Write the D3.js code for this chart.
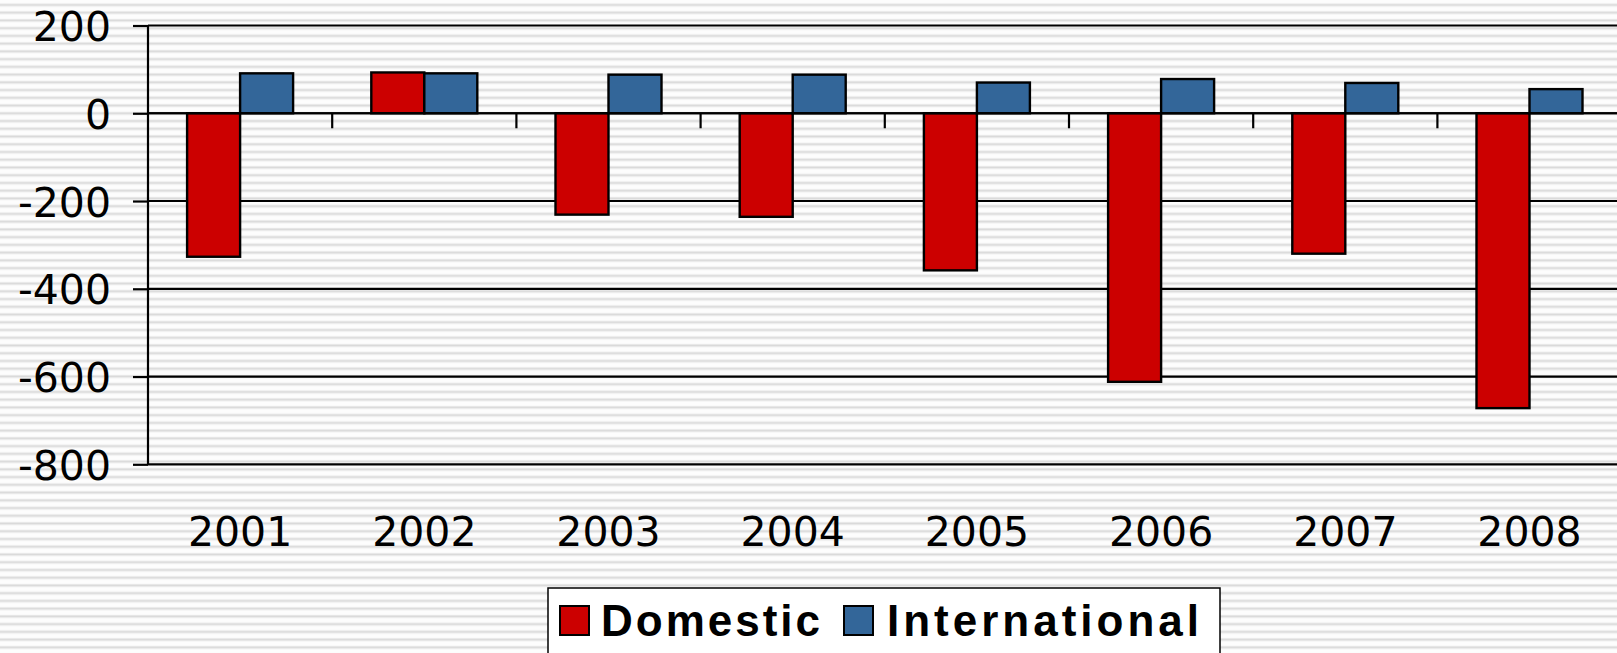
<!DOCTYPE html>
<html>
<head>
<meta charset="utf-8">
<script src="https://cdn.jsdelivr.net/npm/d3@7"></script>
<style>
html,body{margin:0;padding:0;background:#fff;overflow:hidden;}
svg{display:block;}
</style>
</head>
<body>
<svg id="chart" width="1617" height="653"></svg>
<script>
const categories = ["2001","2002","2003","2004","2005","2006","2007","2008"];
const seriesNames = ["Domestic","International"];
const domestic = [-327, 93, -231, -236, -358, -612, -320, -672];
const international = [91, 91, 88, 88, 70, 78, 69, 55];
const yTicks = [200, 0, -200, -400, -600, -800];
const yTickLabels = ["200", "0", "-200", "-400", "-600", "-800"];
const colors = ["#CC0000", "#336699"];

const svg = d3.select("#chart");
const W = 1617, H = 653;

// striped background
const defs = svg.append("defs");
const pat = defs.append("pattern").attr("id","stripes")
  .attr("patternUnits","userSpaceOnUse").attr("width",10).attr("height",7.74)
  .attr("y",0.6);
pat.append("rect").attr("width",10).attr("height",7.74).attr("fill","#fdfdfd");
pat.append("rect").attr("y",2.8).attr("width",10).attr("height",0.7).attr("fill","#e8e8e8");
pat.append("rect").attr("y",3.5).attr("width",10).attr("height",1.8).attr("fill","#dadada");
pat.append("rect").attr("y",5.3).attr("width",10).attr("height",0.7).attr("fill","#e8e8e8");
svg.append("rect").attr("width",W).attr("height",H).attr("fill","url(#stripes)");

const x0 = 148, bandW = 184.2;
const x = d3.scaleBand().domain(categories).range([x0, x0 + bandW*categories.length]).padding(0);
const x1 = d3.scaleBand().domain(seriesNames).range([0, x.bandwidth()]).paddingInner(0).paddingOuter(0.7377);
const y = d3.scaleLinear().domain([-800, 200]).range([464.3, 25.5]);

const plotRight = x.range()[1];

// y ticks (outward)
const yAxis = d3.axisLeft(y).tickValues(yTicks).tickSize(15).tickFormat((d,i) => yTickLabels[i]);
const gy = svg.append("g").attr("transform",`translate(${x0},0)`).call(yAxis);
gy.select(".domain").remove();
gy.selectAll(".tick line").attr("stroke","#000").attr("stroke-width",2.2);
gy.selectAll(".tick text").remove();

// gridlines
svg.append("g").selectAll("line").data(yTicks).join("line")
  .attr("x1", x0).attr("x2", plotRight)
  .attr("y1", d => y(d)).attr("y2", d => y(d))
  .attr("stroke","#000").attr("stroke-width",2.2);

// y labels
svg.append("g").selectAll("text").data(yTicks).join("text")
  .attr("x", 111).attr("y", d => y(d) + 15.5)
  .attr("text-anchor","end")
  .attr("font-family","DejaVu Sans, Verdana, sans-serif")
  .attr("font-size", 41).attr("fill","#000")
  .text((d,i) => yTickLabels[i]);

// vertical axis line
svg.append("line").attr("x1",x0).attr("x2",x0).attr("y1",y(200)).attr("y2",y(-800))
  .attr("stroke","#000").attr("stroke-width",2.2);

// bars
const data = categories.map((c,i) => ({cat:c, vals:[domestic[i], international[i]]}));
const groups = svg.append("g").selectAll("g").data(data).join("g")
  .attr("transform", d => `translate(${x(d.cat)},0)`);
groups.selectAll("rect").data(d => d.vals.map((v,j) => ({name:seriesNames[j], v, j})))
  .join("rect")
  .attr("x", d => x1(d.name))
  .attr("width", x1.bandwidth())
  .attr("y", d => y(Math.max(0, d.v)))
  .attr("height", d => Math.abs(y(d.v) - y(0)))
  .attr("fill", d => colors[d.j])
  .attr("stroke","#000").attr("stroke-width",2.4);

// category axis at zero
const gx = svg.append("g").attr("transform",`translate(0,${y(0)})`);
gx.append("line").attr("x1",x0).attr("x2",plotRight).attr("y1",0).attr("y2",0)
  .attr("stroke","#000").attr("stroke-width",2.2);
gx.selectAll("line.tk").data(categories.slice(1)).join("line").attr("class","tk")
  .attr("x1", d => x(d)).attr("x2", d => x(d)).attr("y1",0).attr("y2",15)
  .attr("stroke","#000").attr("stroke-width",2.2);

// category labels
svg.append("g").selectAll("text").data(categories).join("text")
  .attr("x", d => x(d) + x.bandwidth()/2).attr("y", 546)
  .attr("text-anchor","middle")
  .attr("font-family","DejaVu Sans, Verdana, sans-serif")
  .attr("font-size", 41).attr("fill","#000")
  .text(d => d);

// legend
const lg = svg.append("g");
lg.append("rect").attr("x",548).attr("y",588).attr("width",672).attr("height",70)
  .attr("fill","#fff").attr("stroke","#000").attr("stroke-width",1.5);
const legendItems = [
  {name:seriesNames[0], color:colors[0], sx:560, tx:601, ls:3},
  {name:seriesNames[1], color:colors[1], sx:844, tx:887, ls:4}
];
legendItems.forEach(it => {
  lg.append("rect").attr("x",it.sx).attr("y",606).attr("width",29).attr("height",29)
    .attr("fill",it.color).attr("stroke","#000").attr("stroke-width",2);
  lg.append("text").attr("x",it.tx).attr("y",636)
    .attr("font-family","Liberation Sans, Arial, sans-serif")
    .attr("font-weight","bold").attr("font-size",44).attr("letter-spacing",it.ls)
    .attr("fill","#000").text(it.name);
});
</script>
</body>
</html>
